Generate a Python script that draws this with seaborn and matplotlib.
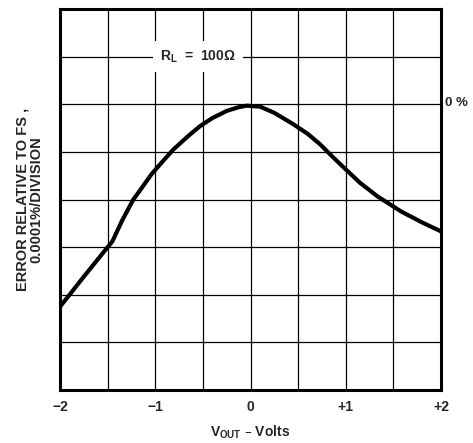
import numpy as np
import pandas as pd
import matplotlib
matplotlib.use("Agg")
import matplotlib.pyplot as plt
import seaborn as sns

# curve (x in volts, y in divisions, 0 = 0% line)
v_out = [-2.0, -1.9, -1.75, -1.52, -1.45, -1.35, -1.23, -1.15, -1.04, -0.9, -0.81,
         -0.65, -0.53, -0.4, -0.25, -0.12, -0.04, 0.1, 0.25, 0.45, 0.6, 0.73,
         0.85, 0.98, 1.15, 1.33, 1.58, 1.8, 2.0]
error_div = [-4.25, -4.0, -3.62, -3.05, -2.88, -2.45, -2.0, -1.78, -1.47, -1.15, -0.95,
             -0.66, -0.46, -0.29, -0.14, -0.06, -0.03, -0.05, -0.18, -0.42, -0.62, -0.84,
             -1.08, -1.33, -1.65, -1.93, -2.25, -2.48, -2.67]
x_ticks = [-2, -1, 0, 1, 2]
x_tick_labels = ["\u22122", "\u22121", "0", "+1", "+2"]

df = pd.DataFrame({"v": v_out, "err": error_div})

sns.set_theme(style="white")
plt.rcParams["font.family"] = ["Liberation Sans", "DejaVu Sans"]
plt.rcParams["font.weight"] = "bold"

fig = plt.figure(figsize=(4.73, 4.43), dpi=100)
ax = fig.add_axes([60 / 473, 53 / 443, 381 / 473, 381 / 443])

sns.lineplot(data=df, x="v", y="err", color="black", linewidth=3.0, ax=ax, zorder=3)

ax.set_xlim(-2, 2)
ax.set_ylim(-6, 2)
grid_x = np.arange(-2, 2.01, 0.5)
ax.set_xticks(grid_x)
ax.set_yticks(np.arange(-6, 2.01, 1))
ax.grid(True, color="black", linewidth=0.9)
ax.tick_params(length=0, labelleft=False, pad=7)
ax.set_xticklabels(["" if t not in x_ticks else x_tick_labels[x_ticks.index(t)] for t in grid_x],
                   fontsize=10, fontweight="bold")
for s in ax.spines.values():
    s.set_color("black")
    s.set_linewidth(2.2)

ax.set_xlabel("V$_{\\mathregular{OUT}}$ \u2013 Volts", fontsize=10, fontweight="bold", labelpad=7)
ax.set_ylabel("ERROR RELATIVE TO FS ,\n0.0001%/DIVISION", fontsize=10.5, fontweight="bold",
              labelpad=12, linespacing=0.95)

ax.text(-0.55, 1.0, "R$_{\\mathregular{L}}$  =  100\u03a9", fontsize=10, fontweight="bold",
        ha="center", va="center", zorder=4,
        bbox=dict(facecolor="white", edgecolor="none", pad=5))
ax.annotate("0 %", xy=(1.0, 0.0), xycoords=ax.get_yaxis_transform(),
            xytext=(3, 1), textcoords="offset points", fontsize=9.5,
            fontweight="bold", ha="left", va="center")

fig.savefig("out.png", dpi=100)
